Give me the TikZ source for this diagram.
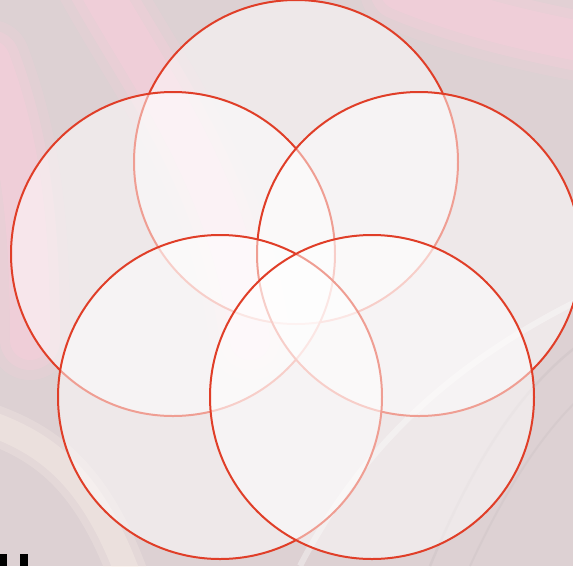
\documentclass[tikz,border=0pt]{standalone}
\begin{document}
\begin{tikzpicture}[x=1pt,y=-1pt,
  ring/.style={circle,inner sep=0pt,minimum size=324pt,draw=ringred,line width=2pt,fill=white,fill opacity=0.5,draw opacity=1},
  band/.style={line width=#1,line cap=round}]
\definecolor{ringred}{RGB}{224,62,40}
\definecolor{bgbase}{RGB}{221,209,211}
\definecolor{bgpink}{RGB}{250,205,220}
\definecolor{bgcream}{RGB}{250,240,232}
\definecolor{bggray}{RGB}{200,190,192}
\useasboundingbox (0,0) rectangle (573,566);
\begin{scope}
\clip (0,0) rectangle (573,566);
\fill[bgbase] (0,0) rectangle (573,566);
% pink bands
\foreach \w/\o in {80/0.2,60/0.3,40/0.4}{
  \draw[bgpink,opacity=\o,band=\w pt] (95,-20) .. controls (150,80) and (230,180) .. (250,340);
  \draw[bgpink,opacity=\o,band=\w pt] (-10,60) .. controls (20,140) and (30,220) .. (30,340);
  \draw[bgpink,opacity=\o,band=\w pt] (400,-10) .. controls (460,15) and (520,30) .. (600,45);
}
% cream streaks bottom-left
\foreach \w/\o in {40/0.25,25/0.35}{
  \draw[bgcream,opacity=\o,band=\w pt] (-20,420) .. controls (40,440) and (90,470) .. (130,580);
}
% gray curves lower right
\draw[bggray,opacity=0.35,line width=2.5pt] (430,566) .. controls (470,470) and (520,380) .. (600,330);
\draw[bggray,opacity=0.3,line width=2pt] (470,566) .. controls (510,480) and (550,420) .. (600,380);
\draw[white,opacity=0.35,line width=6pt] (300,566) .. controls (360,450) and (450,360) .. (600,290);
\end{scope}
% black marks
\fill[black] (0,554) rectangle (7,566);
\fill[black] (20,554) rectangle (28,566);
% rings
\node[ring] (top) at (296,162) {};
\node[ring] (left) at (173,254) {};
\node[ring] (right) at (419,254) {};
\node[ring] (botleft) at (220,397) {};
\node[ring] (botright) at (372,397) {};
\end{tikzpicture}
\end{document}
